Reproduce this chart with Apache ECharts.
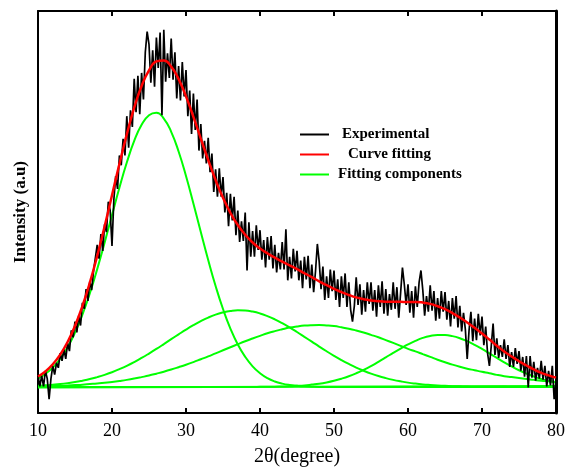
<!DOCTYPE html>
<html><head><meta charset="utf-8">
<script src="https://cdn.jsdelivr.net/npm/echarts@6/dist/echarts.min.js"></script>
<style>html,body{margin:0;padding:0;background:#fff}#c{width:568px;height:472px}</style>
</head><body><div id="c"></div>
<script>
// x tick labels
var xTicks = [10, 20, 30, 40, 50, 60, 70, 80];
// fit curves sampled every 1 degree from 10 to 80
var fitStart = 10;
var curveFit = [37.1,42.3,49.6,59.4,72.2,88.6,108.7,132.5,159.9,189.8,221.5,253.3,283.5,310.6,332.7,348.6,357.7,358.7,352.4,339.7,322.1,301.3,279.2,257.4,237.0,218.9,203.6,191.2,181.4,173.5,167.3,162.4,158.0,154.0,150.2,146.3,142.2,138.2,133.9,130.0,126.4,123.0,120.1,117.6,115.8,114.4,113.7,113.3,113.2,113.1,113.0,113.0,112.4,111.0,108.6,105.6,101.7,97.2,92.1,86.7,80.8,74.7,68.5,62.6,57.5,52.6,48.3,44.3,40.9,38.3,36.0];
var comp1 = [35.2,39.8,46.3,55.2,66.8,81.7,100.0,121.6,146.4,173.3,201.4,229.1,254.8,276.8,293.2,303.0,305.5,299.6,286.1,266.1,241.2,213.2,184.1,155.7,129.2,105.8,85.9,69.7,57.1,47.5,40.5,35.5,32.1,29.9,28.5,27.7,27.1,26.8,26.5,26.5,26.5,26.5,26.5,26.5,26.5,26.5,26.5,26.5,26.5,26.5,26.5,26.5,26.5,26.5,26.5,26.5,26.5,26.5,26.5,26.5,26.5,26.5,26.5,26.5,26.5,26.5,26.5,26.5,26.5,26.5,26.5];
var comp2 = [27.8,28.2,28.8,29.5,30.4,31.5,32.9,34.5,36.5,38.8,41.5,44.6,48.0,51.8,56.0,60.5,65.2,70.1,75.1,80.0,84.8,89.3,93.4,97.1,100.1,102.3,103.8,104.5,104.3,103.2,101.3,98.6,95.3,91.4,87.1,82.4,77.5,72.6,67.6,62.8,58.2,53.9,49.9,46.2,43.0,40.1,37.6,35.5,33.7,32.2,30.9,29.9,29.1,28.5,28.0,27.6,27.3,27.1,26.9,26.8,26.7,26.6,26.6,26.6,26.5,26.5,26.5,26.5,26.5,26.5,26.5];
var comp3 = [27.1,27.3,27.5,27.7,28.0,28.4,28.8,29.4,30.0,30.7,31.6,32.6,33.7,35.0,36.5,38.1,40.0,42.0,44.2,46.6,49.1,51.8,54.7,57.6,60.7,63.8,66.9,70.0,73.0,75.8,78.5,81.1,83.3,85.2,86.9,88.1,89.0,89.4,89.5,89.1,88.4,87.2,85.8,84.0,81.9,79.5,77.0,74.2,71.3,68.3,65.3,62.7,59.9,57.1,54.2,51.7,49.2,47.0,45.1,43.5,41.9,40.4,38.8,37.5,36.6,35.6,34.7,33.7,32.8,32.2,31.5];
var comp4 = [26.5,26.5,26.5,26.5,26.5,26.5,26.5,26.5,26.5,26.5,26.5,26.5,26.5,26.5,26.5,26.5,26.5,26.5,26.5,26.5,26.5,26.5,26.5,26.5,26.5,26.5,26.5,26.5,26.5,26.5,26.6,26.7,26.8,27.0,27.2,27.6,28.1,28.9,29.8,31.1,32.8,34.9,37.4,40.4,43.9,47.8,52.1,56.6,61.2,65.6,69.8,73.4,76.4,78.4,79.4,79.3,78.2,76.1,73.1,69.4,65.2,60.7,56.1,51.6,47.4,43.5,40.1,37.1,34.6,32.6,31.0];
var baselineX = [10, 80];
var baselineY = [26, 27.5];
// experimental data, every 0.25 degree from 10
var expStart = 10, expStep = 0.25;
var experimental = [
38,27,38,27, 43,35,14,35, 48,39,51,46, 61,53,65,55, 71,63,84,77,
93,82,99,89, 112,106,126,114, 134,125,144,142, 171,157,182,165, 192,184,215,206,
170,217,241,228, 262,252,279,262, 302,270,308,291, 340,306,343,304, 346,319,367,388,
375,336,369,332, 382,351,387,303, 390,337,366,341, 381,339,367,320, 353,318,357,322,
349,302,328,284, 325,288,319,267, 294,259,277,254, 280,245,264,225, 248,220,249,220,
240,204,224,190, 223,196,220,181, 206,174,195,175, 204,145,194,159, 185,159,191,166,
186,156,176,148, 179,156,180,147, 171,143,163,146, 174,146,187,135, 159,137,167,144,
165,135,155,127, 159,136,160,127, 151,123,144,172, 154,126,149,115, 139,117,146,124,
145,115,136,108, 139,117,142,108, 133,105,93,109, 138,110,131,100, 125,103,133,111,
133,104,125,98, 130,108,134,101, 126,99,121,105, 133,106,128,97, 122,148,131,110,
131,102,124,97, 129,108,133,145, 125,99,119,103, 130,104,124,94, 117,96,124,103,
123,95,114,88, 117,96,119,87, 109,83,102,85, 55,84,103,73, 96,74,101,79,
98,69,88,61, 48,68,91,59, 76,56,69,57, 75,55,69,47, 62,47,66,50,
63,43,57,37, 58,26,58,36, 52,33,46,35, 53,34,48,27, 43,28,48,14,
33];

function pairs(start, step, arr){ return arr.map(function(v,i){ return [start + i*step, v]; }); }
var green = '#00ff00';
var chart = echarts.init(document.getElementById('c'), null, {renderer:'canvas'});
var serif = '"Liberation Serif", "Times New Roman", serif';
function greenSeries(data){
  return {name:'Fitting components', type:'line', data:data, showSymbol:false, smooth:true,
    lineStyle:{color:green, width:2}, itemStyle:{color:green}, z:2, animation:false};
}
var baseData = baselineX.map(function(x,i){return [x, baselineY[i]];});
chart.setOption({
  animation:false,
  backgroundColor:'#fff',
  grid:{left:38, right:11, top:11, bottom:52, containLabel:false},
  legend:{
    orient:'vertical', left:300, top:127, padding:0, itemWidth:29, itemHeight:2, itemGap:5,
    icon:'rect',
    data:[
      {name:'Experimental', itemStyle:{color:'#000'}},
      {name:'Curve fitting', itemStyle:{color:'#ff0000'}},
      {name:'Fitting components', itemStyle:{color:green}}
    ],
    formatter:function(n){
      if(n==='Experimental') return '{a|'+n+'}';
      if(n==='Curve fitting') return '{b|'+n+'}';
      return '{c|'+n+'}';
    },
    textStyle:{fontFamily:serif, fontWeight:'bold', fontSize:15, color:'#000',
      rich:{a:{padding:[0,0,0,8], fontFamily:serif, fontWeight:'bold', fontSize:15},
            b:{padding:[0,0,0,14], fontFamily:serif, fontWeight:'bold', fontSize:15},
            c:{padding:[0,0,0,4], fontFamily:serif, fontWeight:'bold', fontSize:15}}}
  },
  xAxis:[{
    type:'value', min:10, max:80, interval:10,
    name:'2θ(degree)', nameLocation:'middle', nameGap:34,
    nameTextStyle:{fontFamily:serif, fontSize:20, color:'#000'},
    axisLine:{show:true, onZero:false, lineStyle:{color:'#000', width:2}},
    axisTick:{show:true, inside:true, length:5, lineStyle:{color:'#000', width:2}},
    axisLabel:{fontFamily:serif, fontSize:18, color:'#000', margin:9,
      formatter:function(v){ return xTicks.indexOf(v)>=0 ? String(v) : ''; }},
    splitLine:{show:false}
  },{
    type:'value', min:10, max:80, interval:10, position:'top',
    axisLine:{show:true, onZero:false, lineStyle:{color:'#000', width:2}},
    axisTick:{show:true, inside:true, length:5, lineStyle:{color:'#000', width:2}},
    axisLabel:{show:false}, splitLine:{show:false}
  }],
  yAxis:[{
    type:'value', min:0, max:409,
    name:'Intensity (a.u)', nameLocation:'middle', nameGap:9,
    nameTextStyle:{fontFamily:serif, fontSize:17, fontWeight:'bold', color:'#000'},
    axisLine:{show:true, onZero:false, lineStyle:{color:'#000', width:2}},
    axisTick:{show:false}, axisLabel:{show:false}, splitLine:{show:false}
  },{
    type:'value', min:0, max:409, position:'right',
    axisLine:{show:true, onZero:false, lineStyle:{color:'#000', width:3}},
    axisTick:{show:false}, axisLabel:{show:false}, splitLine:{show:false}
  }],
  series:[
    {name:'Experimental', type:'line', data:pairs(expStart, expStep, experimental), showSymbol:false,
      lineStyle:{color:'#000', width:1.7}, itemStyle:{color:'#000'}, z:3},
    greenSeries(baseData),
    greenSeries(pairs(fitStart,1,comp1)),
    greenSeries(pairs(fitStart,1,comp2)),
    greenSeries(pairs(fitStart,1,comp3)),
    greenSeries(pairs(fitStart,1,comp4)),
    {name:'Curve fitting', type:'line', data:pairs(fitStart,1,curveFit), showSymbol:false, smooth:true,
      lineStyle:{color:'#ff0000', width:2.5}, itemStyle:{color:'#ff0000'}, z:4}
  ]
});
</script></body></html>
